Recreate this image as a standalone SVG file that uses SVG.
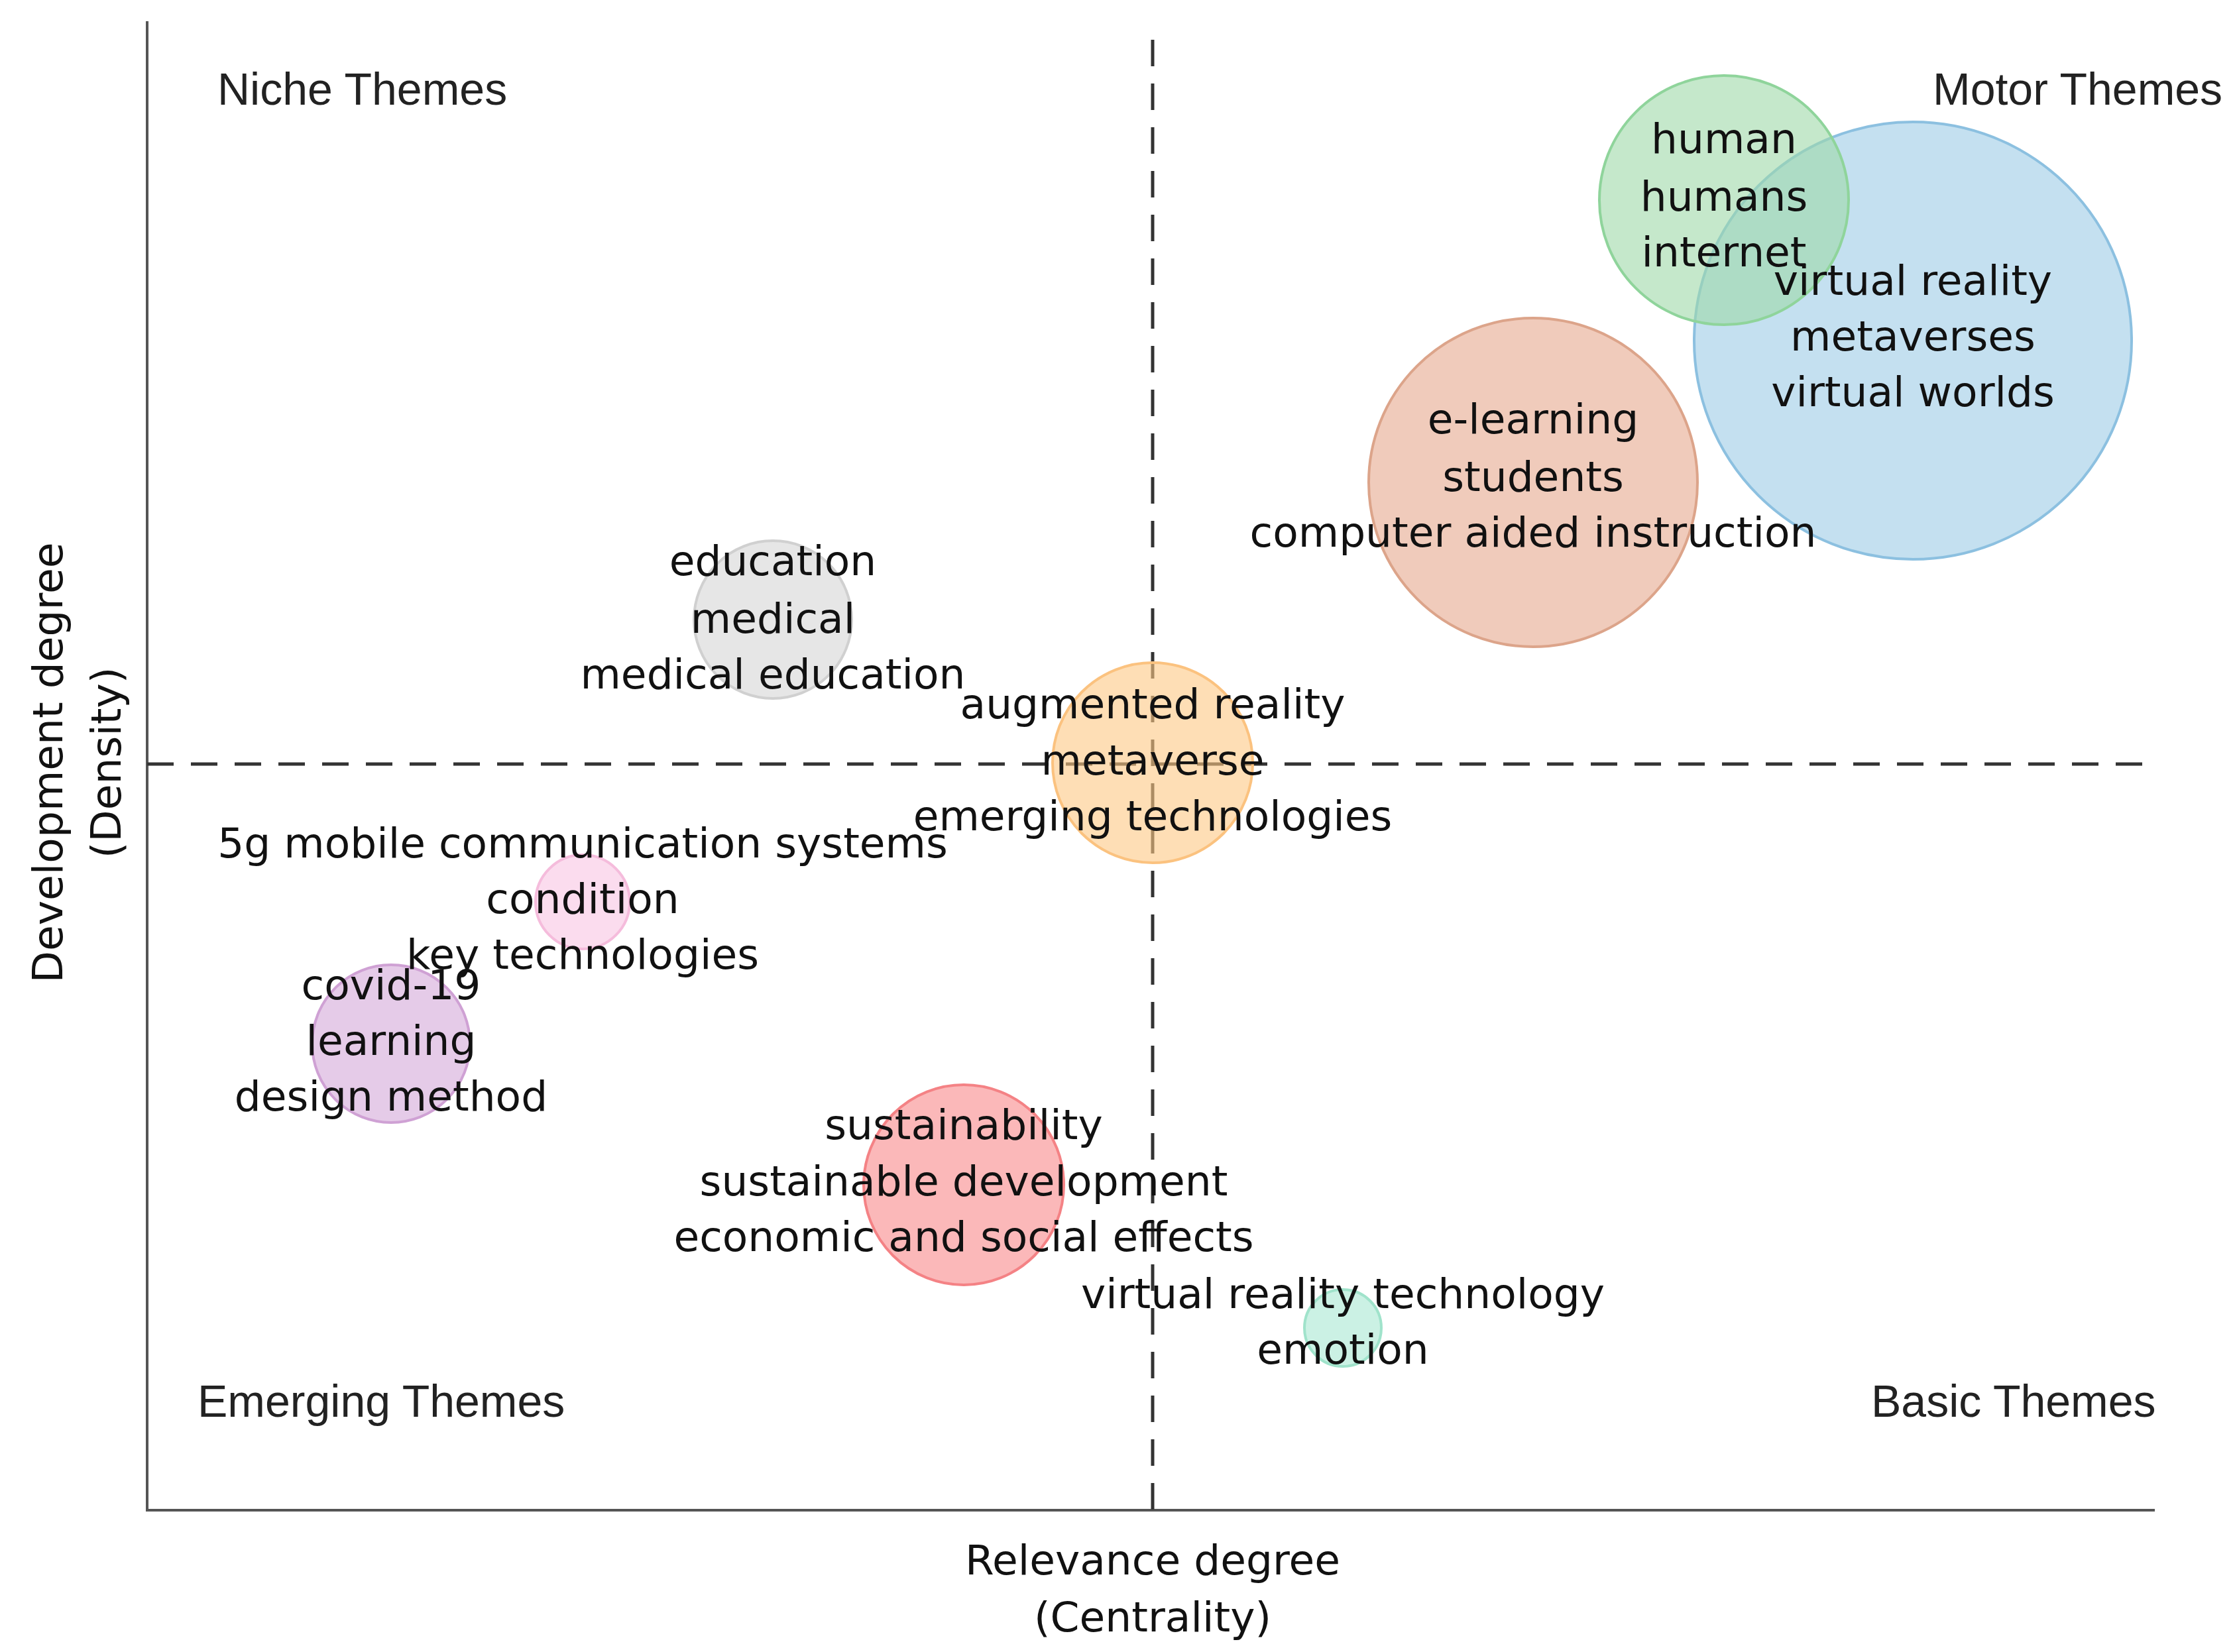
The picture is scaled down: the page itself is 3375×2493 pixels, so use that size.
<svg xmlns="http://www.w3.org/2000/svg" width="3375" height="2493" viewBox="0 0 3375 2493">
<style>
.t{font-family:"DejaVu Sans",sans-serif;font-size:63px;fill:#111;text-anchor:middle}
.q{font-family:"Liberation Sans",Arial,sans-serif;font-size:68px;fill:#222}
.ax{stroke:#555;stroke-width:4;fill:none}
.d{stroke:#333;stroke-width:5;stroke-dasharray:40,26;fill:none}
circle{stroke-width:4}
</style>
<rect width="3375" height="2493" fill="#fff"/>
<g id="axes">
<path class="ax" d="M222 32 V2279 H3251"/>
<path class="d" d="M1739 60 V2279"/>
<path class="d" d="M222 1153 H3251"/>
</g>
<g id="quadrants">
<text class="q" x="328" y="158">Niche Themes</text>
<text class="q" x="2916" y="158">Motor Themes</text>
<text class="q" x="298" y="2138">Emerging Themes</text>
<text class="q" x="2823" y="2138">Basic Themes</text>
<text class="t" x="1739" y="2376">Relevance degree</text>
<text class="t" x="1739" y="2462">(Centrality)</text>
<text class="t" transform="translate(94 1151) rotate(-90)">Development degree</text>
<text class="t" transform="translate(182 1151) rotate(-90)">(Density)</text>
</g>
<g id="c-blue"><circle cx="2886" cy="514" r="330" fill="#9ccbe6" fill-opacity="0.6" stroke="#8cc0e0"/></g>
<g id="c-green"><circle cx="2601" cy="302" r="188" fill="#9ed9a9" fill-opacity="0.6" stroke="#8fd49b"/></g>
<g id="c-brown"><circle cx="2313" cy="728" r="248" fill="#e6a98e" fill-opacity="0.6" stroke="#dca48a"/></g>
<g id="c-gray"><circle cx="1166" cy="935" r="119" fill="#d6d6d6" fill-opacity="0.6" stroke="#d0d0d0"/></g>
<g id="c-orange"><circle cx="1739" cy="1151" r="151" fill="#fdc884" fill-opacity="0.6" stroke="#fbc27f"/></g>
<g id="c-pink"><circle cx="879" cy="1361" r="71" fill="#f8c4e2" fill-opacity="0.6" stroke="#f5bcdc"/></g>
<g id="c-purple"><circle cx="590" cy="1575" r="119" fill="#d4a8d8" fill-opacity="0.6" stroke="#cfa1d4"/></g>
<g id="c-red"><circle cx="1454" cy="1788" r="151" fill="#f8888a" fill-opacity="0.6" stroke="#f48285"/></g>
<g id="c-teal"><circle cx="2026" cy="2004" r="58" fill="#a9e8d2" fill-opacity="0.6" stroke="#a0e3cb"/></g>
<g id="labels">
<text class="t" x="2601" y="231">human</text><text class="t" x="2601" y="318">humans</text><text class="t" x="2601" y="402">internet</text>
<text class="t" x="2886" y="445">virtual reality</text><text class="t" x="2886" y="529">metaverses</text><text class="t" x="2886" y="613">virtual worlds</text>
<text class="t" x="2313" y="654">e-learning</text><text class="t" x="2313" y="741">students</text><text class="t" x="2313" y="825">computer aided instruction</text>
<text class="t" x="1166" y="868">education</text><text class="t" x="1166" y="955">medical</text><text class="t" x="1166" y="1039">medical education</text>
<text class="t" x="1739" y="1084">augmented reality</text><text class="t" x="1739" y="1169">metaverse</text><text class="t" x="1739" y="1253">emerging technologies</text>
<text class="t" x="879" y="1294">5g mobile communication systems</text><text class="t" x="879" y="1378">condition</text><text class="t" x="879" y="1462">key technologies</text>
<text class="t" x="590" y="1508">covid-19</text><text class="t" x="590" y="1592">learning</text><text class="t" x="590" y="1676">design method</text>
<text class="t" x="1454" y="1719">sustainability</text><text class="t" x="1454" y="1804">sustainable development</text><text class="t" x="1454" y="1888">economic and social effects</text>
<text class="t" x="2026" y="1974">virtual reality technology</text><text class="t" x="2026" y="2058">emotion</text>
</g>
</svg>
